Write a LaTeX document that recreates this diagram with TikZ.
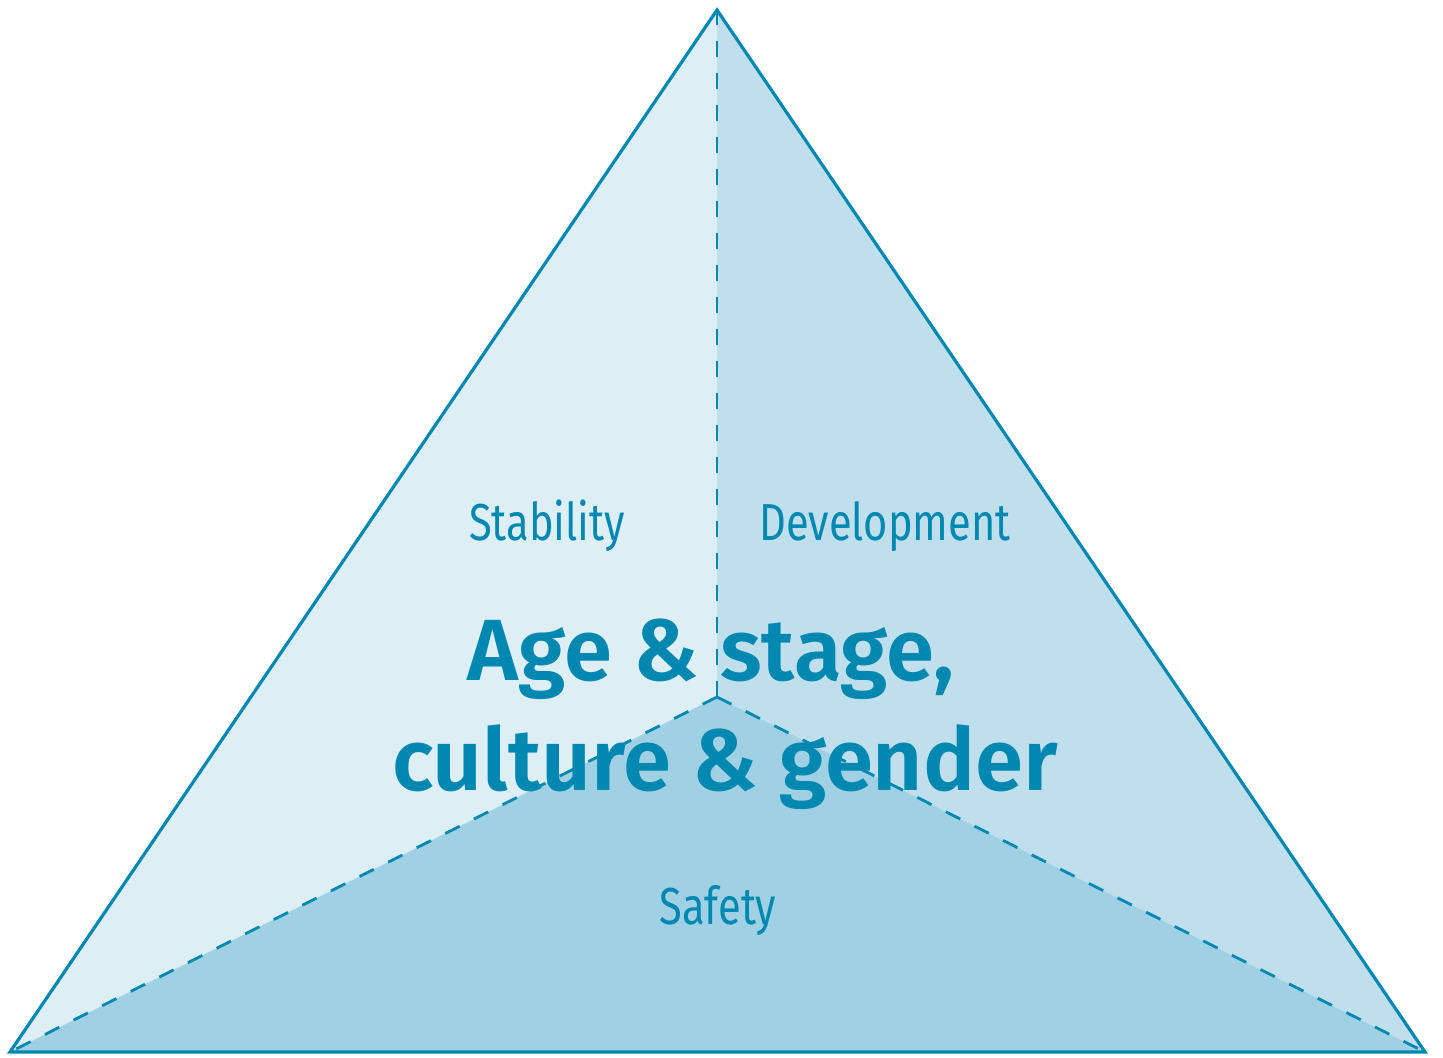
\documentclass[tikz,border=0pt]{standalone}
\usepackage{fontspec}
\setmainfont{Fira Sans}
\newfontfamily\labelfont[FakeStretch=0.8]{Fira Sans}
\newfontfamily\boldfont{Fira Sans SemiBold}
\begin{document}
\begin{tikzpicture}[x=0.5pt,y=-0.5pt]
\definecolor{edge}{HTML}{0088B0}
\definecolor{fillL}{HTML}{DDEEF5}
\definecolor{fillR}{HTML}{BEDFEB}
\definecolor{fillB}{HTML}{A0D0E3}
\tikzset{
  outline/.style={draw=edge,line width=1.6pt,line join=miter},
  divider/.style={draw=edge,line width=1.4pt,dash pattern=on 8pt off 8pt},
  lbl/.style={text=edge,font=\labelfont\fontsize{26}{30}\selectfont,anchor=base,inner sep=0pt},
  big/.style={text=edge,font=\boldfont\fontsize{43.5}{50}\selectfont,anchor=base,inner sep=0pt}
}
\useasboundingbox (0,0) rectangle (1443,1057);
\coordinate (T) at (717,10);
\coordinate (L) at (10,1052);
\coordinate (R) at (1425,1052);
\coordinate (C) at (717,697);
\fill[fillL] (T) -- (C) -- (L) -- cycle;
\fill[fillR] (T) -- (R) -- (C) -- cycle;
\fill[fillB] (L) -- (C) -- (R) -- cycle;
\draw[divider] (C) -- (T);
\draw[divider] (C) -- (L);
\draw[divider] (C) -- (R);
\draw[outline] (T) -- (R) -- (L) -- cycle;
\node[lbl] (stab) at (547,540) {Stability};
\node[lbl] (dev) at (885,540) {Development};
\node[lbl] (saf) at (718,924) {Safety};
\node[big] (l1) at (711,680) {Age \& stage,};
\node[big] (l2) at (725,790) {culture \& gender};
\end{tikzpicture}
\end{document}
